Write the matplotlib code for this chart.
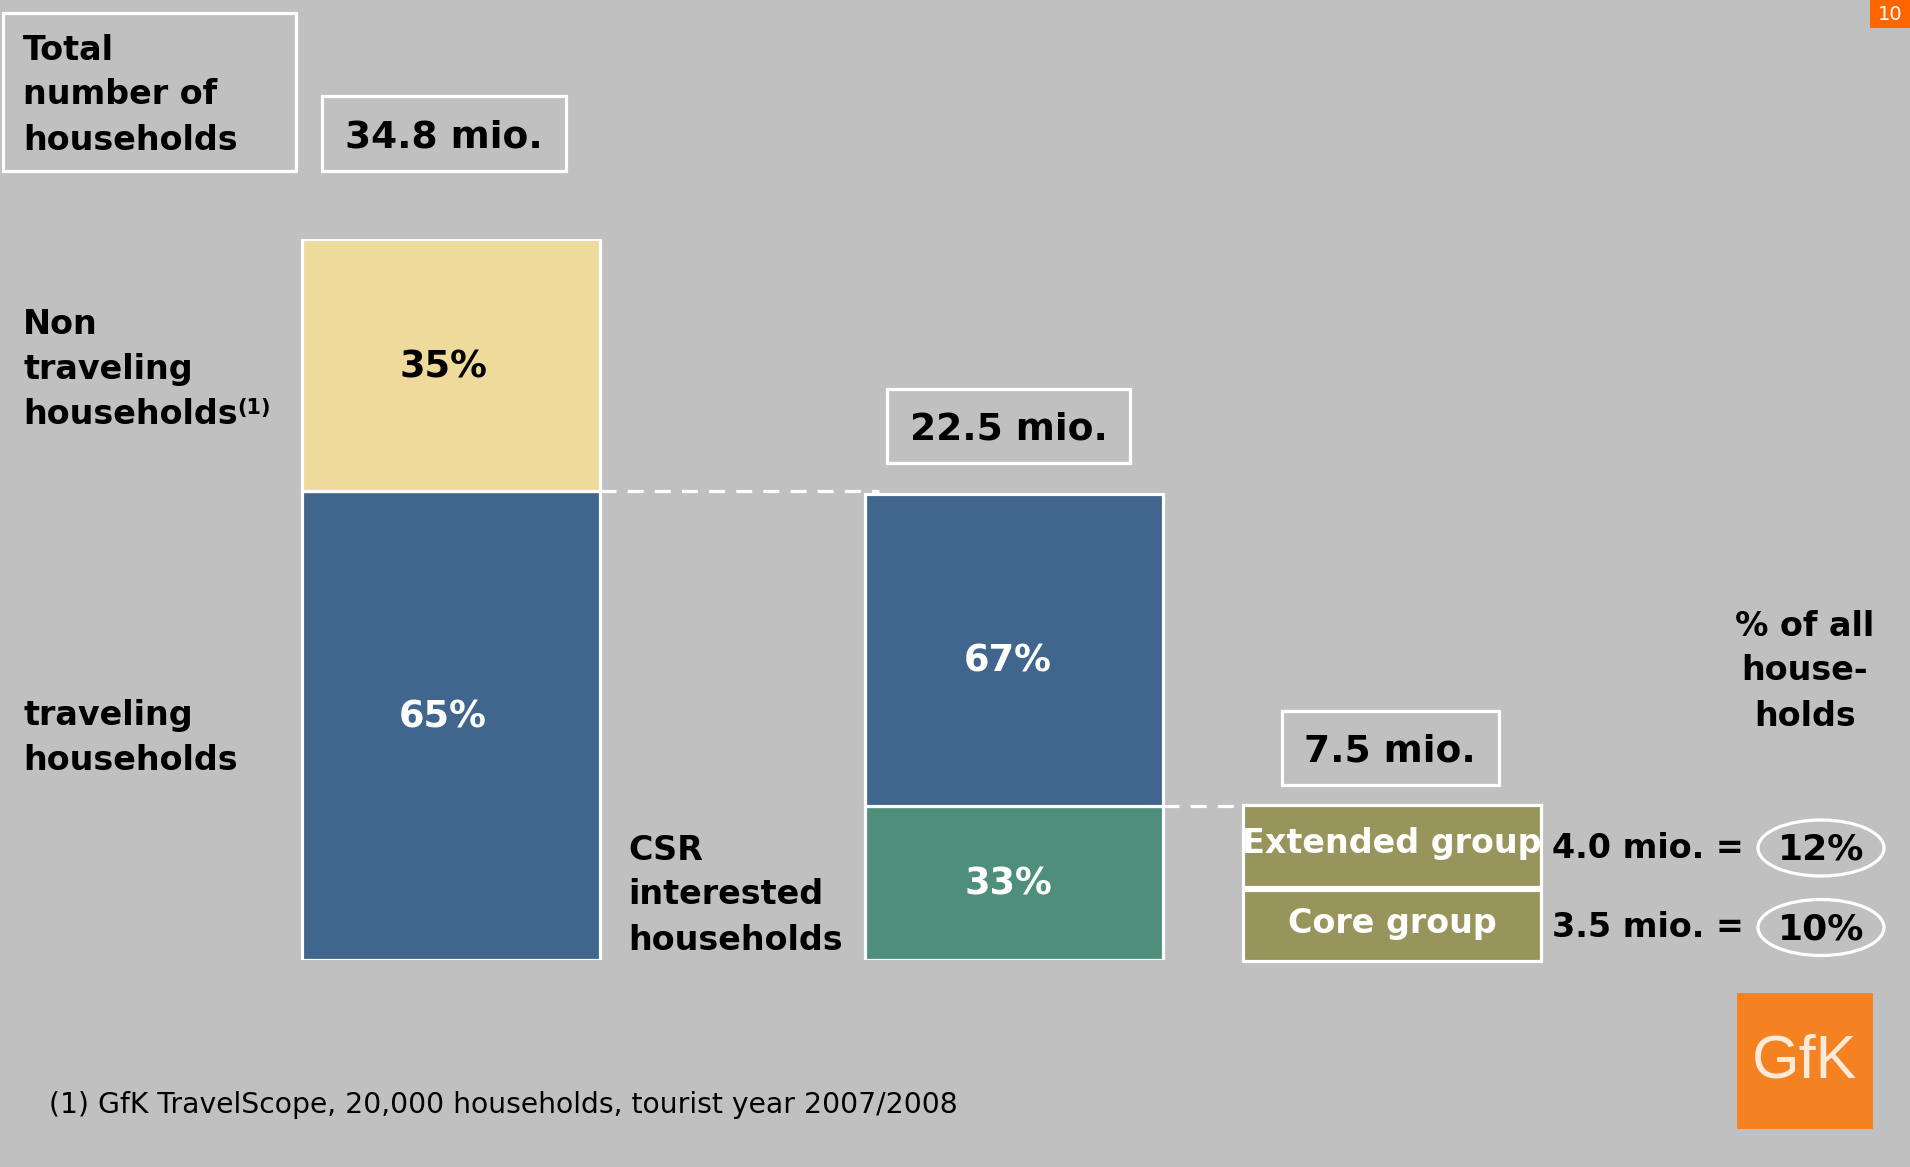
import matplotlib
matplotlib.use("Agg")
import matplotlib.pyplot as plt
from matplotlib.patches import Rectangle, Ellipse

# household funnel, values in million households
total_mio = 34.8
travel_labels = ["Non traveling", "traveling"]
travel_share = [35, 65]          # % of all households
csr_mio = 22.5
csr_share = [67, 33]             # % of traveling households
target_mio = 7.5
group_names = ["Extended group", "Core group"]
group_mio = [4.0, 3.5]
group_pct = [12, 10]             # % of all households
footnote = "(1) GfK TravelScope, 20,000 households, tourist year 2007/2008"
page_no = "10"

W, H = 1910, 1167
BG = "#c0c0c0"
YELLOW = "#eeda9b"
BLUE = "#41668e"
TEAL = "#4e8e7a"
OLIVE = "#97945c"

plt.rcParams["font.family"] = ["DejaVu Sans"]

fig = plt.figure(figsize=(W / 100, H / 100), dpi=100, facecolor=BG)

# bar axes: y in mio, bottom of bars at pixel 960, 34.8 mio at pixel 239
y0_px, y1_px = 960, 239
bax = fig.add_axes([0, (H - y0_px) / H, 1, (y0_px - y1_px) / H])
bax.set_xlim(0, W)
bax.set_ylim(0, total_mio)
bax.axis("off")
bax.patch.set_alpha(0)

# overlay axes in pixel coordinates for boxes and text
ax = fig.add_axes([0, 0, 1, 1])
ax.set_xlim(0, W)
ax.set_ylim(H, 0)
ax.axis("off")
ax.patch.set_alpha(0)

pct_kw = dict(ha="center", va="center", fontsize=26.5, fontweight="bold")

# left bar: traveling vs non traveling
b1_x, b1_w = 451, 298
trav = total_mio * travel_share[1] / 100
non = total_mio * travel_share[0] / 100
bax.bar(b1_x, trav, width=b1_w, bottom=0, color=BLUE, edgecolor="white", linewidth=2.3)
bax.bar(b1_x, non, width=b1_w, bottom=trav, color=YELLOW, edgecolor="white", linewidth=2.3)
bax.text(b1_x - 8, trav / 2 + 0.4, f"{travel_share[1]}%", color="white", **pct_kw)
bax.text(b1_x - 8, trav + non / 2 - 0.1, f"{travel_share[0]}%", color="black", **pct_kw)

# middle bar: CSR interested share of traveling households
b2_x, b2_w = 1014, 298
upper = csr_mio * csr_share[0] / 100
lower = csr_mio * csr_share[1] / 100
bax.bar(b2_x, lower, width=b2_w, bottom=0, color=TEAL, edgecolor="white", linewidth=2.3)
bax.bar(b2_x, upper, width=b2_w, bottom=lower, color=BLUE, edgecolor="white", linewidth=2.3)
bax.text(b2_x - 6, lower + upper / 2 - 0.55, f"{csr_share[0]}%", color="white", **pct_kw)
bax.text(b2_x - 6, lower / 2 - 0.05, f"{csr_share[1]}%", color="white", **pct_kw)

# dashed connectors
bax.plot([b1_x + b1_w / 2, b2_x - b2_w / 2 + 14], [trav, trav], color="white",
         lw=2.3, dashes=(5, 3.5))
bax.plot([b2_x + b2_w / 2, 1242], [lower, lower], color="white",
         lw=2.3, dashes=(5, 3.5))


def box(x0, y0, x1, y1, fc="none"):
    ax.add_patch(Rectangle((x0, y0), x1 - x0, y1 - y0, facecolor=fc,
                           edgecolor="white", linewidth=2.3))


def lines(x, ys, texts, **kw):
    for y, t in zip(ys, texts):
        ax.text(x, y, t, va="center", **kw)


bold = dict(fontsize=24, fontweight="bold", color="black")
big = dict(ha="center", va="center", fontsize=27, fontweight="bold")

# header
box(3, 13, 296, 171)
lines(23, [50, 95, 140], ["Total", "number of", "households"], ha="left", **bold)
box(322, 96, 566, 171)
ax.text(444, 137, f"{total_mio} mio.", **big)

# side labels
lines(23, [325, 370, 415], ["Non", "traveling", "households"], ha="left", **bold)
ax.text(237, 408, "(1)", ha="left", va="center", fontsize=15, fontweight="bold")
lines(23, [716, 761], ["traveling", "households"], ha="left", **bold)
lines(628, [850, 895, 940], ["CSR", "interested", "households"], ha="left", **bold)

box(887, 389, 1130, 463)
ax.text(1009, 429, f"{csr_mio} mio.", **big)

box(1282, 711, 1499, 785)
ax.text(1390, 751, f"{target_mio} mio.", **big)

# target groups
group_boxes = [(805, 887), (890, 961)]
for name, mio, pct, (ya, yb) in zip(group_names, group_mio, group_pct, group_boxes):
    box(1243, ya, 1541, yb, fc=OLIVE)
    ax.text(1392, (ya + yb) / 2 - 2, name, ha="center", va="center", color="white",
            fontsize=24, fontweight="bold")
    yc = (ya + yb) / 2 + 2
    ax.text(1552, yc, f"{mio} mio. =", ha="left", va="center", **bold)
    ax.add_patch(Ellipse((1821, yc), 126, 56, facecolor="none",
                         edgecolor="white", linewidth=2.3))
    ax.text(1821, yc + 2, f"{pct}%", ha="center", va="center",
            fontsize=26, fontweight="bold")

lines(1805, [627, 671, 716], ["% of all", "house-", "holds"], ha="center", **bold)

# footnote
ax.text(49, 1105, footnote, ha="left", va="center", fontsize=20.3, color="black")

# logo and page number
ax.add_patch(Rectangle((1737, 993), 136, 136, facecolor="#f58220", edgecolor="none"))
ax.text(1805, 1062, "GfK", ha="center", va="center", color="#fbe9da", fontsize=44,
        family=["Liberation Sans", "DejaVu Sans"])
ax.add_patch(Rectangle((1870, 0), 40, 28, facecolor="#ff6600", edgecolor="none"))
ax.text(1890, 14, page_no, ha="center", va="center", color="white", fontsize=14)

fig.savefig("out.png", dpi=100, facecolor=BG)
